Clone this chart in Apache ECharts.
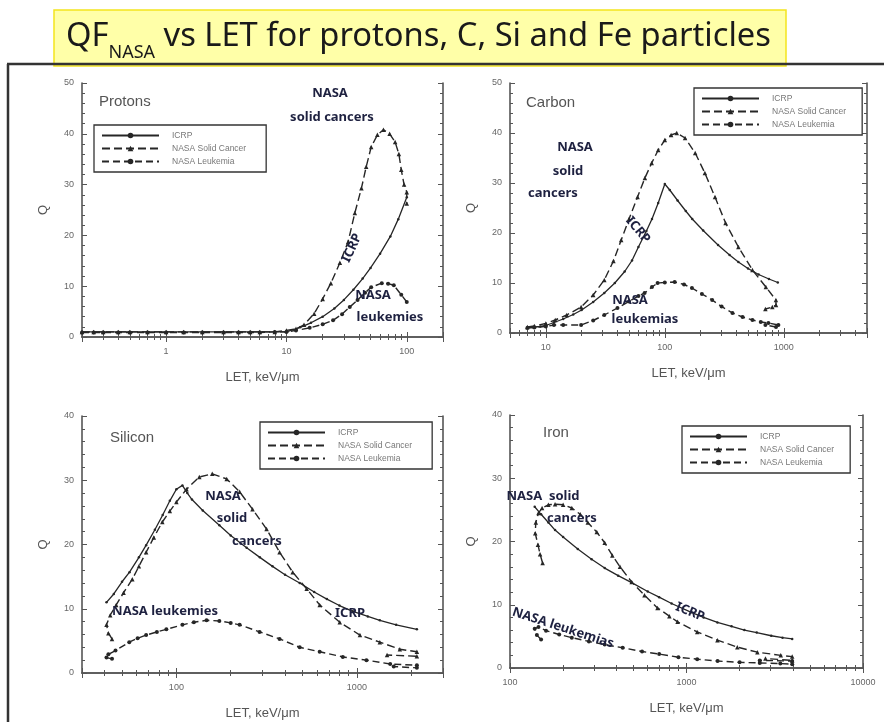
<!DOCTYPE html>
<html><head><meta charset="utf-8">
<script src="https://cdn.jsdelivr.net/npm/echarts@6/dist/echarts.min.js"></script>
<style>html,body{margin:0;padding:0;background:#fff}#c{width:884px;height:722px}</style>
</head><body><div id="c"></div>
<script>
// ---------- data ----------
const seriesNames = ['ICRP', 'NASA Solid Cancer', 'NASA Leukemia'];
const panelTitles = ['Protons', 'Carbon', 'Silicon', 'Iron'];
const axisTickLabels = [[1, 10, 100], [10, 100, 1000], [100, 1000], [100, 1000, 10000]];

const protonsICRP = [[0.2,1],[0.25,1],[0.3,1],[0.4,1],[0.5,1],[0.7,1],[1,1],[1.4,1],[2,1],[3,1],[4,1],[5,1],[6,1],[8,1],[10,1],[13,1.9],[16,2.8],[20,4],[25,5.6],[30,7.3],[36,9.3],[43,11.5],[50,13.6],[60,16.4],[73,19.8],[85,23.2],[100,27.5]];
const protonsSolid = [[0.2,1],[0.25,1],[0.3,1],[0.4,1],[0.5,1],[0.7,1],[1,1],[1.4,1],[2,1],[3,1],[4,1],[5,1],[6,1],[8,1],[10,1.3],[12,1.6],[14,2.4],[17,4.6],[20,7.5],[23.4,10.6],[27.8,14.6],[32.5,18.7],[37,24.4],[42,29.3],[46,33.5],[50.6,37.4],[57,39.8],[64,40.8],[72,40],[80,38.4],[86,36],[90,32.9],[95,30],[100,28.5],[100,26.3]];
const protonsLeuk = [[0.2,0.9],[0.25,0.9],[0.3,0.9],[0.4,0.9],[0.5,0.9],[0.7,0.9],[1,0.9],[1.4,0.9],[2,0.9],[3,0.9],[4,0.9],[5,0.9],[6,0.9],[8,1],[10,1],[12,1.3],[15.6,1.8],[20,2.5],[24.4,3.3],[29,4.5],[33.6,5.9],[39,7.3],[45,8.7],[50.6,9.8],[62,10.6],[70,10.5],[78,10.2],[90,8.3],[100,6.9]];

const carbonICRP = [[7,1.1],[8,1.2],[9,1.3],[10,1.5],[11.7,2.1],[14,2.8],[17,3.7],[20,4.6],[25,6.2],[31,8],[38,10],[46,12.3],[53,14.5],[60,17.2],[70,20.4],[78,22.8],[88,26],[100,29.8],[110,28.6],[128,26.5],[150,24.4],[170,22.8],[210,20.5],[280,17.6],[350,15.6],[415,14.2],[500,12.9],[614,11.7],[750,10.8],[890,10.1]];
const carbonSolid = [[7,1.2],[8,1.4],[10,1.9],[12,2.6],[15,3.6],[19.8,5.2],[25,7.6],[31,10.6],[37,14.4],[43,18.6],[50,22.8],[59,27.2],[68,31],[77.6,34],[88,36.6],[100,38.6],[113,39.6],[126,40],[148,39],[180,36],[217,32],[264,27.2],[324,22],[415,17.2],[545,12.6],[707,9.2],[858,6.6],[860,5.6],[800,5.2],[700,4.8]];
const carbonLeuk = [[7,1],[8,1.1],[10,1.3],[11.7,1.6],[14,1.6],[19.8,1.6],[25,2.5],[31,3.6],[40,5],[50,6.3],[60,7.4],[67.6,8],[78,9.2],[87,10],[100,10.1],[121,10.2],[145,9.7],[169,9],[205,7.8],[250,6.6],[300,5.3],[370,4],[450,3.2],[545,2.6],[640,2.2],[742,2],[900,1.6],[860,1.2],[700,1.6]];

const siliconICRP = [[41,11],[45,12.3],[50,14.2],[55,15.7],[62,18],[68,19.9],[76,22.3],[84,24.6],[92,26.8],[100,28.6],[108,29.2],[115,28],[122,27],[140,25.3],[173,23],[200,21.4],[245,19.5],[290,18],[341,16.6],[400,15.3],[482,14],[580,12.6],[682,11.5],[800,10.5],[950,9.6],[1150,8.8],[1340,8.2],[1650,7.5],[2150,6.8]];
const siliconSolid = [[44,5.3],[42,6.2],[41,7.5],[43,9],[46.4,10.6],[51,12.5],[57,14.6],[62,16.6],[68,18.8],[75,21.1],[83.6,23.5],[92,25.2],[100,26.6],[113.8,28.6],[134,30.5],[158,31],[190,30.2],[224,28.2],[264,25.5],[316,22.4],[373,18.8],[441,15.7],[527,13.1],[622,10.6],[804,7.9],[1040,5.9],[1340,4.8],[1730,3.7],[2150,3.3],[2150,2.6],[1470,2.8]];
const siliconLeuk = [[44,2.2],[41,2.4],[42,2.9],[46,3.5],[54.8,4.8],[61,5.4],[68,5.9],[78,6.4],[88,6.8],[108,7.5],[125,7.9],[147,8.2],[173,8.1],[200,7.8],[224,7.5],[289,6.4],[373,5.3],[482,4],[622,3.3],[836,2.5],[1130,2],[1530,1.4],[2150,1.2],[2150,0.8],[1600,1]];

const ironICRP = [[138,25.5],[150,24.3],[165,23],[180,21.8],[200,20.7],[242,18.8],[290,17.2],[344,15.8],[410,14.6],[489,13.5],[603,12.1],[700,11.2],[823,10.2],[1065,8.8],[1250,8],[1497,7.2],[1800,6.6],[2128,6],[2500,5.6],[3020,5.1],[3500,4.8],[3970,4.6]];
const ironSolid = [[153,16.6],[148,18],[144,19.5],[139,21.3],[140,23],[145,24.5],[152,25.3],[165,25.8],[180,25.9],[200,25.8],[224,25.3],[250,24.3],[276,23],[310,21.5],[344,19.8],[380,17.8],[420,16],[489,13.6],[578,11.5],[685,9.5],[800,8.2],[890,7.3],[1150,5.7],[1497,4.4],[1940,3.3],[2520,2.5],[3420,2],[3970,1.8],[3970,1.2],[2800,1.5]];
const ironLeuk = [[150,4.5],[142,5.2],[138,6.2],[145,6.5],[160,5.9],[190,5.3],[224,4.8],[280,4.2],[344,3.7],[435,3.2],[560,2.6],[700,2.2],[900,1.7],[1150,1.4],[1500,1.1],[2000,0.9],[2600,0.8],[3400,0.7],[3970,0.6],[3970,1.1],[2600,1.2]];

// ---------- layout ----------
const panelData = [
  [protonsICRP, protonsSolid, protonsLeuk],
  [carbonICRP, carbonSolid, carbonLeuk],
  [siliconICRP, siliconSolid, siliconLeuk],
  [ironICRP, ironSolid, ironLeuk]
];
const panelLayout = [
  {xMin:0.2, xMax:200, yMax:50, grid:{left:82, top:83, width:361, height:254}, legend:{left:94, top:125, padR:20}, label:[99,102]},
  {xMin:5, xMax:5000, yMax:50, grid:{left:510, top:83, width:357, height:250}, legend:{left:694, top:88, padR:16}, label:[526,103]},
  {xMin:30, xMax:3000, yMax:40, grid:{left:82, top:416, width:361, height:257}, legend:{left:260, top:422, padR:20}, label:[110,438]},
  {xMin:100, xMax:10000, yMax:40, grid:{left:510, top:415, width:353, height:253}, legend:{left:682, top:426, padR:16}, label:[543,433]}
];
const annotations = [
  {t:'NASA', x:330, y:93}, {t:'solid cancers', x:332, y:117},
  {t:'ICRP', x:352, y:248, r:65}, {t:'NASA', x:373, y:295}, {t:'leukemies', x:390, y:317},
  {t:'NASA', x:575, y:147}, {t:'solid', x:568, y:171}, {t:'cancers', x:553, y:193},
  {t:'ICRP', x:638, y:230, r:-50}, {t:'NASA', x:630, y:300}, {t:'leukemias', x:645, y:319},
  {t:'NASA', x:223, y:496}, {t:'solid', x:232, y:518}, {t:'cancers', x:257, y:541},
  {t:'NASA leukemies', x:165, y:611}, {t:'ICRP', x:350, y:613},
  {t:'NASA  solid', x:543, y:496}, {t:'cancers', x:572, y:518},
  {t:'ICRP', x:690, y:612, r:-22}, {t:'NASA leukemias', x:563, y:628, r:-18}
];

const LINE = '#262626';
const AX = '#555';
const FONT = 'Liberation Sans';
const seriesStyles = [
  {lineStyle:{type:'solid', width:1.3}, symbol:'circle', symbolSize:2.5},
  {lineStyle:{type:[8,4], width:1.4}, symbol:'triangle', symbolSize:4.5},
  {lineStyle:{type:[7,4], width:1.4}, symbol:'circle', symbolSize:4}
];

function isPow10(v){ const e = Math.log10(v); return Math.abs(e - Math.round(e)) < 1e-6; }

const grids = [], xAxes = [], yAxes = [], legends = [], series = [];
panelLayout.forEach((p, i) => {
  grids.push(p.grid);
  const labels = axisTickLabels[i];
  const xCommon = {type:'log', logBase:10, gridIndex:i, min:p.xMin, max:p.xMax,
    axisLine:{show:true, lineStyle:{color:AX, width:1.6}},
    axisTick:{show:true, inside:true, length:5, lineStyle:{color:AX}},
    minorTick:{show:true, splitNumber:9, length:3, lineStyle:{color:AX}},
    splitLine:{show:false}, minorSplitLine:{show:false}};
  xAxes.push(Object.assign({}, xCommon, {position:'bottom',
    axisLabel:{show:true, fontSize:9, color:'#666', fontFamily:FONT, margin:10,
      formatter: v => (isPow10(v) && labels.some(l => Math.abs(l - v) < 1e-6)) ? String(Math.round(v)) : ''},
    name:'LET, keV/\u03bcm', nameLocation:'middle', nameGap:34,
    nameTextStyle:{fontSize:13, color:AX, fontFamily:FONT}}));
  xAxes.push(Object.assign({}, xCommon, {position:'top', axisLabel:{show:false}}));
  const yCommon = {type:'value', gridIndex:i, min:0, max:p.yMax, interval:10,
    axisLine:{show:true, lineStyle:{color:AX, width:1.6}},
    axisTick:{show:true, inside:true, length:5, lineStyle:{color:AX}},
    minorTick:{show:true, splitNumber:5, length:3, lineStyle:{color:AX}},
    splitLine:{show:false}};
  yAxes.push(Object.assign({}, yCommon, {position:'left',
    axisLabel:{fontSize:9, color:'#666', fontFamily:FONT, margin:8},
    name:'Q', nameLocation:'middle', nameGap:32,
    nameTextStyle:{fontSize:13, color:AX, fontFamily:FONT}}));
  yAxes.push(Object.assign({}, yCommon, {position:'right', axisLabel:{show:false}}));
  legends.push({left:p.legend.left, top:p.legend.top, orient:'vertical', data:seriesNames,
    itemWidth:57, itemHeight:7, itemGap:4, padding:[6,p.legend.padR,6,7],
    borderColor:'#333', borderWidth:1.3, backgroundColor:'#fff', selectedMode:false,
    textStyle:{fontSize:8.5, color:'#777', fontFamily:FONT, padding:[0,0,0,8]}});
  panelData[i].forEach((d, k) => {
    series.push(Object.assign({type:'line', name:seriesNames[k], xAxisIndex:2*i, yAxisIndex:2*i,
      data:d, color:LINE, itemStyle:{color:LINE}, animation:false, silent:true, z:3},
      JSON.parse(JSON.stringify(seriesStyles[k])),
      {lineStyle:Object.assign({color:LINE}, seriesStyles[k].lineStyle)}));
  });
});

// title measurements (fit the title line to its width in the reference)
const mctx = document.createElement('canvas').getContext('2d');
function tw(s, f){ mctx.font = f; return mctx.measureText(s).width; }
const TF = '"Noto Sans"';
const titleMain1 = 'QF', titleSub = 'NASA', titleMain2 = ' vs LET for protons, C, Si and Fe particles';
const subSize = 18;
const targetW = 706;
const w2 = tw(titleSub, subSize + 'px ' + TF);
const base = tw(titleMain1, '28px ' + TF) + tw(titleMain2, '28px ' + TF);
const mainSize = Math.round(28 * (targetW - w2) / base * 10) / 10;
const w1 = tw(titleMain1, mainSize + 'px ' + TF);
const tx0 = 66;

const graphic = [
  {type:'rect', shape:{x:54, y:10, width:732, height:56}, style:{fill:'#ffffa8', stroke:'#f3e51e', lineWidth:1.5}, z:1},
  {type:'text', x:tx0, y:37, style:{text:titleMain1, fontSize:mainSize, fontFamily:TF, fill:'#1a1a1a', verticalAlign:'middle'}, z:2},
  {type:'text', x:tx0 + w1, y:53, style:{text:titleSub, fontSize:subSize, fontFamily:TF, fill:'#1a1a1a', verticalAlign:'middle'}, z:2},
  {type:'text', x:tx0 + w1 + w2, y:37, style:{text:titleMain2, fontSize:mainSize, fontFamily:TF, fill:'#1a1a1a', verticalAlign:'middle'}, z:2},
  {type:'line', shape:{x1:7, y1:64, x2:884, y2:64}, style:{stroke:'#333', lineWidth:2.5}, z:3},
  {type:'line', shape:{x1:8, y1:64, x2:8, y2:722}, style:{stroke:'#333', lineWidth:2.5}, z:3}
];
panelLayout.forEach((p, i) => {
  graphic.push({type:'text', x:p.label[0], y:p.label[1], style:{text:panelTitles[i], fontSize:15, fontFamily:FONT, fill:'#555', verticalAlign:'middle'}, z:5});
});
annotations.forEach(a => {
  graphic.push({type:'text', x:a.x, y:a.y, rotation:(a.r || 0) * Math.PI / 180,
    style:{text:a.t, fontSize:13, fontWeight:'bold', fontFamily:'"Noto Sans"', fill:'#1e2140',
      align:'center', verticalAlign:'middle',
      textShadowColor:'rgba(230,150,40,0.55)', textShadowOffsetX:1, textShadowOffsetY:1, textShadowBlur:0}, z:6});
});

const chart = echarts.init(document.getElementById('c'), null, {renderer:'canvas'});
chart.setOption({
  backgroundColor:'#fff', animation:false,
  grid:grids, xAxis:xAxes, yAxis:yAxes, legend:legends, series:series, graphic:graphic
});
</script></body></html>
